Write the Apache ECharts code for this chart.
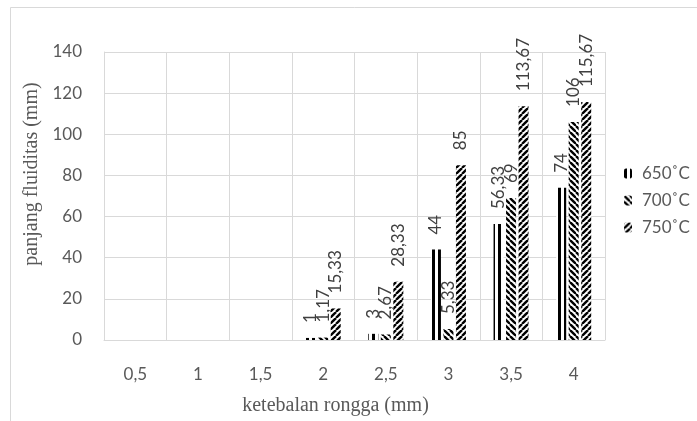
<!DOCTYPE html>
<html>
<head>
    <meta charset="utf-8">
    <title>panjang fluiditas</title>
    <script src="https://cdn.jsdelivr.net/npm/echarts@6.0.0/dist/echarts.min.js"></script>
    <style type="text/css">
        *{margin: 0;padding: 0;}
        body{background: #fff;overflow: hidden;}
        #main{width: 697px;height: 421px;}
    </style>
</head>
<body>
<div id="main"></div>
<script type="text/javascript">
    // data
    var kategori = ['0,5', '1', '1,5', '2', '2,5', '3', '3,5', '4'];
    var seri = ['650˚C', '700˚C', '750˚C'];
    var data650 = [null, null, null, 1, 3, 44, 56.33, 74];
    var data700 = [null, null, null, 1.17, 2.67, 5.33, 69, 106];
    var data750 = [null, null, null, 15.33, 28.33, 85, 113.67, 115.67];
    var yTicks = [0, 20, 40, 60, 80, 100, 120, 140];

    var font = 'Lato, "Open Sans", sans-serif';
    var serif = '"Liberation Serif", "DejaVu Serif", serif';

    // hatch fills like the excel pattern fill
    function pola(jenis){
        var c = document.createElement('canvas');
        c.width = 6; c.height = 6;
        var ctx = c.getContext('2d');
        ctx.fillStyle = '#fff';
        ctx.fillRect(0, 0, 6, 6);
        ctx.fillStyle = '#000';
        ctx.strokeStyle = '#000';
        if(jenis == 'v'){
            ctx.fillRect(0, 0, 3, 6);
        }else{
            ctx.lineWidth = 2.4;
            for(var x0 = -6; x0 <= 6; x0 += 6){
                ctx.beginPath();
                if(jenis == 'turun'){
                    ctx.moveTo(x0, 0); ctx.lineTo(x0 + 6, 6);
                }else{
                    ctx.moveTo(x0, 6); ctx.lineTo(x0 + 6, 0);
                }
                ctx.stroke();
            }
        }
        return {image: c, repeat: 'repeat'};
    }

    function labelFmt(p){
        if(p.value == null) return '';
        return String(p.value).replace('.', ',');
    }

    function barSeri(nama, data, warna){
        return {
            name: nama,
            type: 'bar',
            barWidth: 10,
            barGap: '25%',
            data: data,
            itemStyle: {color: warna},
            label: {
                show: true,
                position: 'top',
                rotate: 90,
                align: 'left',
                verticalAlign: 'middle',
                distance: 15,
                fontFamily: font,
                fontSize: 17,
                color: '#404040',
                formatter: labelFmt
            }
        };
    }

    var myChart = echarts.init(document.getElementById('main'));
    var option = {
        animation: false,
        backgroundColor: '#fff',
        graphic: [{
            type: 'rect',
            shape: {x: 10.5, y: 7.5, width: 720, height: 440},
            style: {fill: 'none', stroke: '#d9d9d9', lineWidth: 1},
            silent: true
        }],
        grid: {
            left: 104,
            right: 92,
            top: 52,
            bottom: 81
        },
        legend: {
            orient: 'vertical',
            left: 619,
            top: 160,
            itemWidth: 8,
            itemHeight: 10,
            itemGap: 10,
            textStyle: {fontFamily: font, fontSize: 17, color: '#595959', padding: [0, 0, 0, 5]},
            data: seri
        },
        xAxis: {
            type: 'category',
            data: kategori,
            name: 'ketebalan rongga (mm)',
            nameLocation: 'middle',
            nameGap: 56,
            nameTextStyle: {fontFamily: serif, fontSize: 20, color: '#595959', padding: [0, 38, 0, 0]},
            axisLine: {lineStyle: {color: '#d9d9d9'}},
            axisTick: {show: false},
            splitLine: {show: true, lineStyle: {color: '#d9d9d9'}},
            axisLabel: {margin: 26, fontFamily: font, fontSize: 17, color: '#595959'}
        },
        yAxis: {
            type: 'value',
            min: yTicks[0],
            max: yTicks[yTicks.length - 1],
            interval: 20,
            name: 'panjang fluiditas (mm)',
            nameLocation: 'middle',
            nameGap: 62,
            nameTextStyle: {fontFamily: serif, fontSize: 20, color: '#595959', padding: [0, 0, 0, 44]},
            axisLine: {show: true, lineStyle: {color: '#d9d9d9'}},
            axisTick: {show: false},
            splitLine: {lineStyle: {color: '#d9d9d9'}},
            axisLabel: {margin: 22, fontFamily: font, fontSize: 17, color: '#595959'}
        },
        series: [
            barSeri(seri[0], data650, pola('v')),
            barSeri(seri[1], data700, pola('turun')),
            barSeri(seri[2], data750, pola('naik'))
        ]
    };
    myChart.setOption(option);
</script>
</body>
</html>
